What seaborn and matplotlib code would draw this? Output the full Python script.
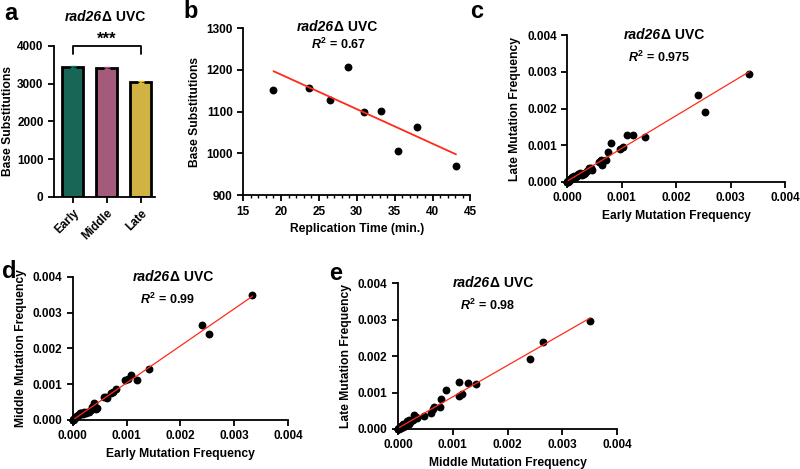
import numpy as np
import pandas as pd
import seaborn as sns
import matplotlib.pyplot as plt
from matplotlib.ticker import MultipleLocator, FormatStrFormatter

# Painel a: substituições por fase de replicação
fases = ["Early", "Middle", "Late"]
subst = [3440, 3415, 3040]
erro = [25, 22, 22]
cores = ["#0B735E", "#B04F7A", "#E8C12A"]

# Painel b: tempo de replicação vs substituições
tempo = [19.0, 23.7, 26.5, 28.8, 31.0, 33.2, 35.5, 38.0, 43.1]
subst_tempo = [1152, 1157, 1127, 1207, 1099, 1101, 1006, 1063, 969]

# Paineis c-e: frequências de mutação (x 1e-3)
early = [3.34, 2.40, 2.53, 1.42, 1.20, 1.09, 1.03, 0.97, 0.80, 0.75, 0.71, 0.62,
         0.63, 0.58, 0.45, 0.40, 0.43, 0.36, 0.33, 0.30, 0.27, 0.24, 0.21, 0.19,
         0.16, 0.14, 0.13, 0.11, 0.10, 0.085, 0.07, 0.06, 0.05, 0.045, 0.04, 0.03,
         0.025, 0.02, 0.015, 0.01, 0.008, 0.005, 0.003, 0.002, 0.001]
middle = [3.50, 2.65, 2.40, 1.43, 1.12, 1.27, 1.16, 1.11, 0.88, 0.79, 0.76, 0.65,
          0.61, 0.64, 0.33, 0.47, 0.30, 0.35, 0.28, 0.22, 0.21, 0.20, 0.21, 0.17,
          0.20, 0.16, 0.19, 0.13, 0.15, 0.10, 0.12, 0.08, 0.09, 0.06, 0.05, 0.04,
          0.03, 0.02, 0.025, 0.01, 0.012, 0.005, 0.004, 0.002, 0.001]
late = [2.95, 2.38, 1.91, 1.23, 1.29, 1.27, 0.95, 0.91, 1.07, 0.83, 0.61, 0.61,
        0.45, 0.55, 0.32, 0.37, 0.38, 0.29, 0.24, 0.22, 0.20, 0.25, 0.18, 0.22,
        0.14, 0.13, 0.16, 0.10, 0.12, 0.125, 0.08, 0.09, 0.06, 0.07, 0.04, 0.05,
        0.03, 0.04, 0.02, 0.015, 0.01, 0.008, 0.003, 0.005, 0.002]

freq = pd.DataFrame({"Early": early, "Middle": middle, "Late": late}) * 1e-3

sns.set_style("ticks")
plt.rcParams["font.family"] = ["Liberation Sans", "DejaVu Sans"]
plt.rcParams["font.weight"] = "bold"
plt.rcParams["axes.labelweight"] = "bold"
plt.rcParams["text.color"] = "black"
plt.rcParams["axes.labelcolor"] = "black"
plt.rcParams["xtick.color"] = "black"
plt.rcParams["ytick.color"] = "black"
plt.rcParams["mathtext.fontset"] = "custom"
plt.rcParams["mathtext.rm"] = "Liberation Sans:bold"
plt.rcParams["mathtext.it"] = "Liberation Sans:italic:bold"
plt.rcParams["mathtext.bf"] = "Liberation Sans:bold"

fig = plt.figure(figsize=(8, 4.69), dpi=100)
ax_a = fig.add_axes([0.0675, 0.580, 0.126, 0.322])
ax_b = fig.add_axes([0.304, 0.584, 0.284, 0.356])
ax_c = fig.add_axes([0.709, 0.612, 0.2725, 0.313])
ax_d = fig.add_axes([0.091, 0.1045, 0.269, 0.305])
ax_e = fig.add_axes([0.4975, 0.0853, 0.274, 0.311])


def estilo(ax):
    sns.despine(ax=ax)
    for s in ["left", "bottom"]:
        ax.spines[s].set_linewidth(1.3)
        ax.spines[s].set_color("black")
    ax.tick_params(width=1.3, length=4, labelsize=8.5, colors="black")
    ax.tick_params(which="minor", width=1.0, length=2.5)


def titulo(ax, x, y):
    t1 = ax.text(x, y, "rad26", transform=ax.transAxes, ha="right", va="center",
                 fontsize=10, fontstyle="italic", fontweight="bold")
    ax.annotate("\u0394 UVC", xy=(1, 0), xycoords=t1, ha="left", va="bottom",
                fontsize=10, fontweight="bold")


# a
sns.barplot(x=fases, y=subst, hue=fases, palette=cores, legend=False,
            width=0.63, edgecolor="black", linewidth=2, ax=ax_a)
for i in range(3):
    ax_a.errorbar(i, subst[i], yerr=erro[i], color=cores[i], capsize=2, lw=1.2)
ax_a.set_xlim(-0.55, 2.42)
ax_a.set_ylim(0, 4000)
ax_a.set_yticks([0, 1000, 2000, 3000, 4000])
ax_a.set_ylabel("Base Substitutions", fontsize=8.7, labelpad=2)
estilo(ax_a)
ax_a.set_xticks(range(3))
ax_a.set_xticklabels(fases, rotation=45, ha="right", rotation_mode="anchor")
ax_a.plot([0, 0, 2, 2], [3780, 3990, 3990, 3780], color="black", lw=1.3, clip_on=False)
ax_a.text(1, 4180, "***", ha="center", va="center", fontsize=12, fontweight="bold")
titulo(ax_a, 0.48, 1.19)

# b
sns.regplot(x=tempo, y=subst_tempo, ci=None, truncate=True, ax=ax_b,
            scatter_kws={"s": 32, "color": "black", "alpha": 1, "linewidths": 0},
            line_kws={"color": "#FF2A1A", "lw": 1.3})
ax_b.set_xlim(15, 45)
ax_b.set_ylim(900, 1300)
ax_b.xaxis.set_major_locator(MultipleLocator(5))
ax_b.xaxis.set_minor_locator(MultipleLocator(1))
ax_b.yaxis.set_major_locator(MultipleLocator(100))
ax_b.set_xlabel("Replication Time (min.)", fontsize=8.7)
ax_b.set_ylabel("Base Substitutions", fontsize=8.7)
estilo(ax_b)
titulo(ax_b, 0.40, 1.006)
ax_b.text(0.42, 0.904, r"$R^2$ = 0.67", transform=ax_b.transAxes, ha="center", va="center", fontsize=9)

# c, d, e
paineis = [
    (ax_c, "Early", "Late", "0.975", 0.42, 0.85),
    (ax_d, "Early", "Middle", "0.99", 0.44, 0.846),
    (ax_e, "Middle", "Late", "0.98", 0.41, 0.85),
]
for ax, xc, yc, r2, tx, ry in paineis:
    sns.regplot(data=freq, x=xc, y=yc, ci=None, truncate=True, ax=ax,
                scatter_kws={"s": 32, "color": "black", "alpha": 1, "linewidths": 0, "clip_on": False},
                line_kws={"color": "#FF2A1A", "lw": 0.9})
    ax.set_xlim(0, 0.004)
    ax.set_ylim(0, 0.004)
    ax.xaxis.set_major_locator(MultipleLocator(0.001))
    ax.yaxis.set_major_locator(MultipleLocator(0.001))
    ax.xaxis.set_major_formatter(FormatStrFormatter("%.3f"))
    ax.yaxis.set_major_formatter(FormatStrFormatter("%.3f"))
    ax.set_xlabel(f"{xc} Mutation Frequency", fontsize=8.7)
    ax.set_ylabel(f"{yc} Mutation Frequency", fontsize=8.7)
    estilo(ax)
    titulo(ax, tx + 0.01, 1.0)
    ax.text(tx, ry, rf"$R^2$ = {r2}", transform=ax.transAxes, ha="center", va="center", fontsize=9)

# letras dos paineis
for letra, x, y in [("a", 11, 14), ("b", 191, 12), ("c", 477, 12), ("d", 9, 272), ("e", 336, 274)]:
    fig.text(x / 800, 1 - y / 469, letra, ha="center", va="center", fontsize=17, fontweight="bold")

fig.savefig("out.png", dpi=100)
